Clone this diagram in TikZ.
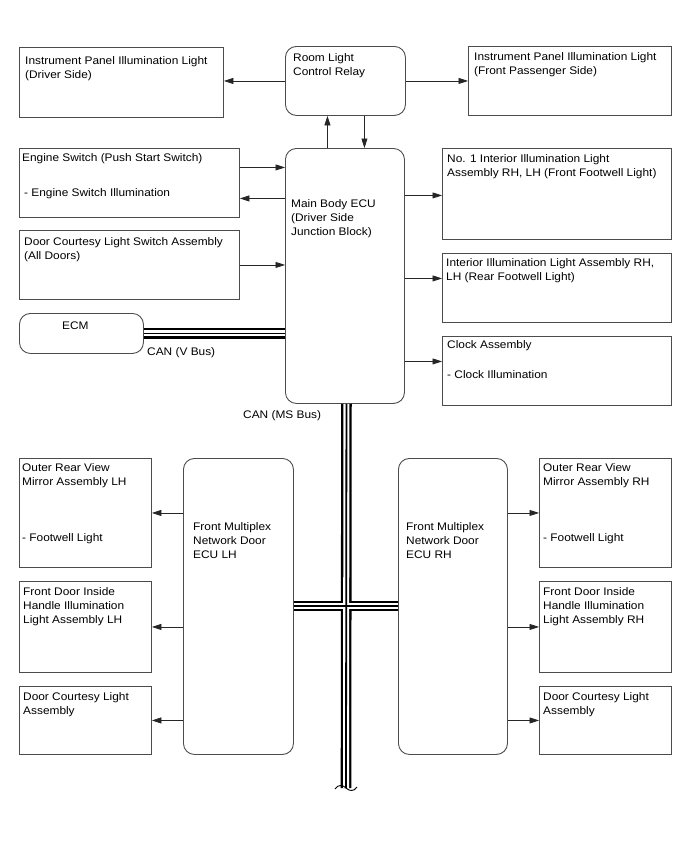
\documentclass[tikz,border=0pt]{standalone}
\usepackage{fontspec}
\setmainfont{Liberation Sans}[FakeStretch=1.08]
\usetikzlibrary{arrows.meta}

\begin{document}
\begin{tikzpicture}[x=1pt, y=-1pt,
    every node/.style={font=\fontsize{11}{14.3}\selectfont},
    unit/.style={draw=black!70, line width=0.9pt, anchor=north west, inner sep=0pt},
    ecu/.style={unit, rounded corners=11pt},
    txt/.style={anchor=north west, inner sep=0pt, align=left},
    lnk/.style={draw=black!85, line width=0.8pt, -{Triangle[length=9.5pt, width=6pt]}},
    busout/.style={line width=10.6pt, black},
    busgap/.style={line width=6pt, white},
    buscore/.style={line width=1.8pt, black}]
    \useasboundingbox (0,0) rectangle (688,852);

    % top row
    \node[unit, minimum width=204, minimum height=70] (ipd) at (19,47) {};
    \node[ecu, minimum width=120, minimum height=69] (rlr) at (285,46) {};
    \node[unit, minimum width=203, minimum height=69] (ipp) at (468,46) {};
    \node[txt] (ipd-t) at (25,56) {Instrument Panel Illumination Light\\(Driver Side)};
    \node[txt] (rlr-t) at (293,53) {Room Light\\Control Relay};
    \node[txt] (ipp-t) at (474,52) {Instrument Panel Illumination Light\\(Front Passenger Side)};

    % main body ECU and its neighbours
    \node[ecu, minimum width=119, minimum height=255] (mbe) at (285,148) {};
    \node[unit, minimum width=220, minimum height=69] (esw) at (19,148) {};
    \node[unit, minimum width=220, minimum height=69] (dcs) at (19,230) {};
    \node[ecu, minimum width=124, minimum height=40] (ecm) at (19,313) {};
    \node[unit, minimum width=229, minimum height=91] (no1) at (442,148) {};
    \node[unit, minimum width=229, minimum height=69] (rear) at (442,253) {};
    \node[unit, minimum width=229, minimum height=69] (clk) at (442,336) {};
    \node[txt] (mbe-t) at (291,199) {Main Body ECU\\(Driver Side\\Junction Block)};
    \node[txt] (esw-t) at (22,153) {Engine Switch (Push Start Switch)};
    \node[txt] (esw-s) at (24,188) {- Engine Switch Illumination};
    \node[txt] (dcs-t) at (24,237) {Door Courtesy Light Switch Assembly\\(All Doors)};
    \node[txt] (ecm-t) at (62,322) {ECM};
    \node[txt] (no1-t) at (447,154) {No. 1 Interior Illumination Light\\Assembly RH, LH (Front Footwell Light)};
    \node[txt] (rear-t) at (446,258) {Interior Illumination Light Assembly RH,\\LH (Rear Footwell Light)};
    \node[txt] (clk-t) at (447,340) {Clock Assembly};
    \node[txt] (clk-s) at (447,370) {- Clock Illumination};
    \node[txt] (canv) at (147,347) {CAN (V Bus)};
    \node[txt] (canms) at (243,410) {CAN (MS Bus)};

    % door ECUs
    \node[ecu, minimum width=110, minimum height=296] (fml) at (183,458) {};
    \node[ecu, minimum width=109, minimum height=296] (fmr) at (398,458) {};
    \node[unit, minimum width=132, minimum height=109] (orl) at (19,458) {};
    \node[unit, minimum width=132, minimum height=91] (fdl) at (19,581) {};
    \node[unit, minimum width=132, minimum height=68] (dcl) at (19,686) {};
    \node[unit, minimum width=132, minimum height=109] (orr) at (539,458) {};
    \node[unit, minimum width=132, minimum height=91] (fdr) at (539,581) {};
    \node[unit, minimum width=132, minimum height=68] (dcr) at (539,686) {};
    \node[txt] (fml-t) at (193,522) {Front Multiplex\\Network Door\\ECU LH};
    \node[txt] (fmr-t) at (406,522) {Front Multiplex\\Network Door\\ECU RH};
    \node[txt] (orl-t) at (22,463) {Outer Rear View\\Mirror Assembly LH};
    \node[txt] (orl-s) at (22,533) {- Footwell Light};
    \node[txt] (fdl-t) at (23,587) {Front Door Inside\\Handle Illumination\\Light Assembly LH};
    \node[txt] (dcl-t) at (23,692) {Door Courtesy Light\\Assembly};
    \node[txt] (orr-t) at (543,463) {Outer Rear View\\Mirror Assembly RH};
    \node[txt] (orr-s) at (543,533) {- Footwell Light};
    \node[txt] (fdr-t) at (543,587) {Front Door Inside\\Handle Illumination\\Light Assembly RH};
    \node[txt] (dcr-t) at (543,692) {Door Courtesy Light\\Assembly};

    % signal lines
    \draw[lnk] (rlr.west) -- (rlr.west -| ipd.east);
    \draw[lnk] (rlr.east) -- (rlr.east -| ipp.west);
    \draw[lnk] ([xshift=-17.5pt]mbe.north) -- ([xshift=-17.5pt]mbe.north |- rlr.south);
    \draw[lnk] ([xshift=19.5pt]mbe.north |- rlr.south) -- ([xshift=19.5pt]mbe.north);
    \draw[lnk] ([yshift=15.5pt]esw.east) -- ([yshift=15.5pt]esw.east -| mbe.west);
    \draw[lnk] ([yshift=-15.5pt]esw.east -| mbe.west) -- ([yshift=-15.5pt]esw.east);
    \draw[lnk] (dcs.east) -- (dcs.east -| mbe.west);
    \draw[lnk] ([yshift=-1.5pt]no1.west -| mbe.east) -- ([yshift=-1.5pt]no1.west);
    \draw[lnk] ([yshift=9.5pt]rear.west -| mbe.east) -- ([yshift=9.5pt]rear.west);
    \draw[lnk] ([yshift=9.5pt]clk.west -| mbe.east) -- ([yshift=9.5pt]clk.west);
    \draw[lnk] (orl.east -| fml.west) -- (orl.east);
    \draw[lnk] (fdl.east -| fml.west) -- (fdl.east);
    \draw[lnk] (dcl.east -| fml.west) -- (dcl.east);
    \draw[lnk] (orr.west -| fmr.east) -- (orr.west);
    \draw[lnk] (fdr.west -| fmr.east) -- (fdr.west);
    \draw[lnk] (dcr.west -| fmr.east) -- (dcr.west);

    % CAN buses
    \coordinate (msmid) at (346,606);
    \coordinate (msbot) at (346,788);
    \draw[busout] (ecm.east) -- (ecm.east -| mbe.west);
    \draw[busout] ([xshift=1.5pt]mbe.south) -- (msbot);
    \draw[busout] (msmid -| fml.east) -- (msmid -| fmr.west);
    \draw[busgap] (ecm.east) -- (ecm.east -| mbe.west);
    \draw[busgap] ([xshift=1.5pt]mbe.south) -- (msbot);
    \draw[busgap] (msmid -| fml.east) -- (msmid -| fmr.west);
    \draw[buscore] (ecm.east) -- (ecm.east -| mbe.west);
    \draw[buscore] ([xshift=1.5pt]mbe.south) -- (msbot);
    \draw[buscore] (msmid -| fml.east) -- (msmid -| fmr.west);
    \draw[line width=0.9pt] (335,789) .. controls (338,784) and (343,785) .. (346,788)
      .. controls (349,791) and (354,792) .. (357,787);
\end{tikzpicture}
\end{document}
